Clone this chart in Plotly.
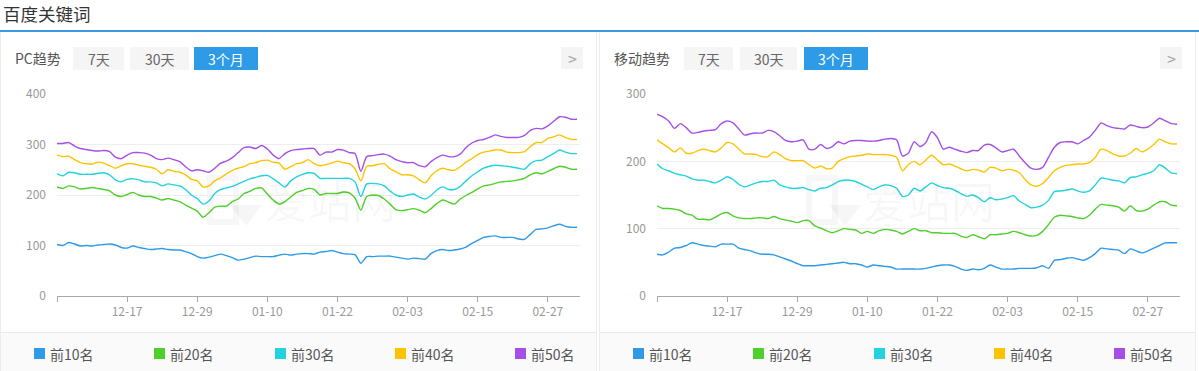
import plotly.graph_objects as go
import pandas as pd

W, H = 1199, 371
FONT = "Noto Sans CJK SC, Microsoft YaHei, sans-serif"

# ---------------- data ----------------
dates = [d.strftime("%m-%d") for d in pd.date_range("2018-12-05", periods=90)]
tick_dates = ["12-05", "12-17", "12-29", "01-10", "01-22", "02-03", "02-15", "02-27"]
tick_text = ["", "12-17", "12-29", "01-10", "01-22", "02-03", "02-15", "02-27"]

series_names = ["前10名", "前20名", "前30名", "前40名", "前50名"]
colors = ["#2f9ae8", "#4fcf2c", "#22d2de", "#fcc400", "#a64fe6"]

pc_top10 = [102, 100, 106, 103, 99, 100, 99, 101, 102, 103,
            101, 96, 95, 99, 96, 94, 92, 93, 94, 92,
            91, 91, 88, 84, 78, 75, 77, 80, 83, 80,
            76, 71, 73, 76, 79, 78, 78, 78, 81, 83,
            81, 83, 84, 84, 83, 87, 88, 90, 87, 84,
            83, 82, 65, 78, 78, 79, 79, 79, 77, 75,
            73, 75, 74, 73, 84, 90, 92, 90, 91, 93,
            97, 104, 110, 116, 118, 119, 116, 116, 116, 113,
            112, 122, 132, 133, 135, 139, 142, 138, 136, 136]
pc_top20 = [216, 213, 218, 216, 212, 213, 215, 213, 211, 208,
            200, 197, 201, 205, 200, 197, 197, 194, 190, 193,
            190, 187, 180, 174, 168, 156, 165, 176, 178, 178,
            187, 192, 203, 207, 213, 214, 202, 190, 182, 187,
            196, 205, 209, 213, 211, 200, 203, 203, 203, 206,
            204, 194, 170, 197, 200, 199, 192, 182, 171, 169,
            171, 173, 170, 165, 173, 183, 190, 186, 182, 192,
            199, 205, 212, 218, 220, 223, 226, 227, 228, 230,
            233, 240, 244, 242, 247, 252, 257, 255, 251, 251]
pc_top30 = [242, 238, 245, 244, 241, 241, 241, 243, 244, 240,
            230, 226, 231, 232, 230, 226, 226, 224, 218, 222,
            220, 218, 211, 200, 193, 182, 188, 203, 211, 214,
            217, 222, 227, 232, 235, 238, 239, 232, 224, 216,
            228, 236, 241, 244, 243, 233, 233, 233, 233, 233,
            233, 226, 197, 222, 223, 222, 218, 208, 200, 197,
            200, 202, 196, 192, 199, 210, 216, 211, 211, 217,
            228, 238, 246, 253, 257, 259, 258, 257, 255, 253,
            251, 262, 268, 269, 276, 282, 289, 285, 282, 282]
pc_top40 = [279, 276, 277, 270, 264, 262, 261, 265, 263, 258,
            253, 258, 262, 262, 259, 257, 255, 251, 242, 250,
            247, 245, 240, 231, 228, 216, 218, 228, 234, 242,
            249, 253, 256, 262, 264, 268, 269, 265, 263, 251,
            256, 262, 264, 270, 262, 258, 260, 263, 267, 264,
            262, 252, 228, 257, 258, 261, 262, 252, 246, 240,
            240, 238, 230, 224, 238, 248, 253, 250, 249, 256,
            265, 272, 280, 285, 287, 289, 289, 285, 284, 284,
            286, 296, 304, 304, 312, 315, 319, 314, 310, 310]
pc_top50 = [302, 302, 304, 297, 292, 290, 288, 287, 288, 286,
            275, 272, 279, 284, 284, 283, 279, 272, 270, 273,
            270, 266, 256, 248, 250, 248, 245, 253, 263, 267,
            274, 284, 294, 295, 292, 298, 291, 279, 272, 282,
            288, 290, 291, 292, 292, 279, 285, 285, 290, 289,
            284, 282, 247, 276, 278, 280, 281, 277, 270, 266,
            264, 264, 258, 256, 266, 274, 279, 276, 276, 281,
            294, 303, 308, 310, 314, 319, 316, 314, 314, 314,
            318, 328, 332, 331, 337, 346, 355, 354, 350, 350]

m_top10 = [62, 61, 65, 71, 72, 75, 79, 77, 75, 74,
           73, 77, 77, 77, 71, 69, 67, 64, 62, 62,
           61, 58, 55, 52, 48, 45, 45, 45, 46, 47,
           48, 49, 50, 48, 48, 46, 43, 46, 45, 44,
           43, 40, 40, 40, 40, 40, 41, 43, 45, 46,
           46, 44, 40, 38, 40, 39, 41, 46, 43, 40,
           40, 40, 41, 41, 41, 42, 45, 41, 53, 54,
           56, 57, 55, 53, 57, 63, 71, 70, 69, 68,
           63, 70, 67, 64, 67, 71, 75, 79, 79, 79]
m_top20 = [134, 130, 130, 129, 127, 122, 120, 114, 114, 113,
           117, 122, 124, 119, 116, 115, 115, 116, 116, 115,
           118, 115, 113, 111, 109, 112, 112, 104, 101, 97,
           94, 97, 100, 99, 98, 93, 96, 93, 97, 99,
           98, 96, 92, 96, 100, 97, 97, 94, 94, 93,
           93, 93, 89, 87, 91, 88, 85, 91, 91, 92,
           93, 96, 94, 91, 89, 90, 96, 106, 117, 120,
           119, 118, 116, 115, 120, 129, 136, 135, 134, 132,
           126, 134, 127, 126, 129, 135, 140, 140, 135, 134]
m_top30 = [196, 189, 186, 182, 180, 178, 174, 172, 172, 170,
           168, 172, 177, 173, 166, 162, 165, 168, 170, 170,
           172, 165, 162, 160, 160, 161, 158, 156, 160, 161,
           165, 170, 172, 172, 170, 166, 162, 158, 162, 165,
           164, 160, 148, 150, 160, 156, 162, 168, 164, 161,
           160, 157, 152, 148, 150, 146, 140, 146, 143, 144,
           146, 149, 141, 136, 131, 132, 135, 142, 155, 156,
           157, 159, 156, 154, 156, 165, 175, 174, 172, 171,
           168, 176, 177, 180, 182, 186, 195, 190, 183, 182]
m_top40 = [232, 226, 220, 214, 220, 212, 212, 216, 218, 216,
           214, 220, 228, 226, 218, 211, 211, 210, 207, 207,
           214, 210, 204, 201, 201, 201, 195, 190, 193, 189,
           190, 200, 204, 207, 208, 209, 211, 210, 210, 210,
           209, 206, 186, 195, 200, 195, 202, 209, 202, 195,
           196, 193, 189, 186, 188, 187, 184, 191, 190, 186,
           188, 187, 183, 173, 165, 163, 167, 176, 186, 191,
           194, 195, 196, 196, 198, 206, 218, 216, 211, 208,
           208, 212, 219, 214, 218, 225, 233, 229, 226, 226]
m_top50 = [270, 266, 260, 249, 256, 250, 242, 243, 245, 246,
           247, 256, 260, 257, 248, 239, 241, 242, 242, 246,
           244, 238, 231, 229, 230, 232, 218, 218, 225, 219,
           222, 229, 226, 230, 231, 231, 230, 230, 231, 233,
           234, 232, 208, 212, 229, 222, 228, 244, 235, 218,
           221, 218, 215, 213, 216, 216, 224, 225, 220, 214,
           216, 218, 208, 198, 190, 188, 191, 206, 221, 228,
           229, 229, 226, 231, 236, 246, 257, 253, 250, 249,
           248, 254, 252, 250, 251, 257, 264, 260, 256, 255]

pc_series = [pc_top10, pc_top20, pc_top30, pc_top40, pc_top50]
m_series = [m_top10, m_top20, m_top30, m_top40, m_top50]

# ---------------- helpers (pixel -> paper) ----------------
def px(x):
    return x / W

def py(y):
    return 1 - y / H

fig = go.Figure()

for vals, name, col in zip(pc_series, series_names, colors):
    fig.add_trace(go.Scatter(x=dates, y=vals, name=name, mode="lines",
                             line=dict(color=col, width=1.4, shape="spline", smoothing=0.7),
                             xaxis="x", yaxis="y", showlegend=False))
for vals, name, col in zip(m_series, series_names, colors):
    fig.add_trace(go.Scatter(x=dates, y=vals, name=name, mode="lines",
                             line=dict(color=col, width=1.4, shape="spline", smoothing=0.7),
                             xaxis="x2", yaxis="y2", showlegend=False))

shapes = []
annotations = []

def rect(x0, y0, x1, y1, fill=None, line=None, layer="below"):
    shapes.append(dict(type="rect", xref="paper", yref="paper",
                       x0=px(x0), x1=px(x1), y0=py(y1), y1=py(y0),
                       fillcolor=fill if fill else "rgba(0,0,0,0)",
                       line=dict(color=line if line else "rgba(0,0,0,0)", width=1 if line else 0),
                       layer=layer))

def hline(x0, x1, y, color, width=1):
    shapes.append(dict(type="line", xref="paper", yref="paper",
                       x0=px(x0), x1=px(x1), y0=py(y), y1=py(y),
                       line=dict(color=color, width=width), layer="below"))

def vline(x, y0, y1, color, width=1):
    shapes.append(dict(type="line", xref="paper", yref="paper",
                       x0=px(x), x1=px(x), y0=py(y0), y1=py(y1),
                       line=dict(color=color, width=width), layer="below"))

def text(x, y, s, size=14, color="#555", xanchor="left", yanchor="middle"):
    annotations.append(dict(x=px(x), y=py(y), xref="paper", yref="paper", text=s,
                            showarrow=False, xanchor=xanchor, yanchor=yanchor,
                            borderpad=0, font=dict(family=FONT, size=size, color=color)))

# header
text(2, 0, "百度关键词", size=17.5, color="#333", yanchor="top")
rect(0, 30, W, 32, fill="#3d9ae0")

# panels
for off, title, tabs in [(0, "PC趋势", [(73, 124), (130, 189), (194, 258)]),
                         (599, "移动趋势", [(684, 733), (740, 797), (804, 868)])]:
    right = off + 596
    # legend background
    rect(off + 1, 332, right, H, fill="#fafafa")
    hline(off, right, 332.5, "#e9e9e9")
    vline(off + 0.5, 32, H, "#ececec")
    vline(right + 0.5, 32, H, "#ececec")
    # title and tabs
    text(off + 14, 58, title, size=14, color="#555")
    labels = ["7天", "30天", "3个月"]
    for i, ((a, b), lab) in enumerate(zip(tabs, labels)):
        active = i == 2
        rect(a, 47, b, 70, fill="#2d9be6" if active else "#f5f5f5")
        text((a + b) / 2, 58.5, lab, size=14, color="#fff" if active else "#666", xanchor="center")
    # arrow button
    rect(off + 561, 47, off + 583, 69, fill="#f4f4f4")
    text(off + 572, 58, "&gt;", size=16, color="#aaa", xanchor="center")
    # watermark (logo + text)
    shapes.append(dict(type="path", xref="paper", yref="paper",
                       path="M {0} {1} L {2} {1} L {2} {3} L {0} {3} Z".format(
                           px(off + 210), py(178), px(off + 236), py(222)),
                       line=dict(color="rgba(0,0,0,0.03)", width=6),
                       fillcolor="rgba(0,0,0,0)", layer="below"))
    shapes.append(dict(type="path", xref="paper", yref="paper",
                       path="M {0} {1} L {2} {1} L {3} {4} Z".format(
                           px(off + 230), py(205), px(off + 262), px(off + 246), py(226)),
                       line=dict(width=0), fillcolor="rgba(0,0,0,0.035)", layer="below"))
    text(off + 330, 200, "爱站网", size=44, color="rgba(0,0,0,0.035)", xanchor="center")
    # legend
    lx = [34, 154, 275, 395, 515]
    for x0, name, col in zip(lx, series_names, colors):
        rect(off + x0, 348, off + x0 + 11, 359, fill=col, layer="above")
        text(off + x0 + 15, 354, name, size=14, color="#555")

axis_common_x = dict(type="category", range=[0, 89.5], tickmode="array",
                     tickvals=tick_dates, ticktext=tick_text, showline=True,
                     linecolor="#a8a8a8", linewidth=1, ticks="outside", ticklen=5,
                     tickcolor="#a8a8a8", showgrid=False, zeroline=False, automargin=False,
                     tickfont=dict(family=FONT, size=12, color="#999"), fixedrange=True)
axis_common_y = dict(showline=False, ticks="", showgrid=True, gridcolor="#eeeeee",
                     gridwidth=1, zeroline=False, tickmode="linear", tick0=0, automargin=False,
                     ticklabelstandoff=10,
                     tickfont=dict(family=FONT, size=12, color="#999"), fixedrange=True)

fig.update_layout(
    width=W, height=H, autosize=False,
    margin=dict(l=0, r=0, t=0, b=0, pad=0),
    paper_bgcolor="#ffffff", plot_bgcolor="rgba(0,0,0,0)",
    font=dict(family=FONT),
    xaxis=dict(domain=[px(57), px(580)], anchor="y", **axis_common_x),
    yaxis=dict(domain=[py(296), py(94)], anchor="x", range=[0, 400], dtick=100, **axis_common_y),
    xaxis2=dict(domain=[px(657), px(1180)], anchor="y2", **axis_common_x),
    yaxis2=dict(domain=[py(296), py(94)], anchor="x2", range=[0, 300], dtick=100, **axis_common_y),
    shapes=shapes, annotations=annotations, showlegend=False,
)

fig.write_html("out.html")
